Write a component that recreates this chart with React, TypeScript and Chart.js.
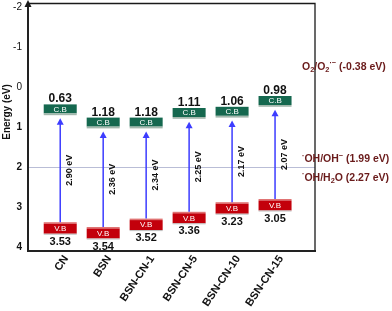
import React, { useEffect, useRef } from 'react';
import { Chart, registerables } from 'chart.js';

Chart.register(...registerables);

const categories = ['CN', 'BSN', 'BSN-CN-1', 'BSN-CN-5', 'BSN-CN-10', 'BSN-CN-15'];
// printed band-edge values
const cbValues = [0.63, 1.18, 1.18, 1.11, 1.06, 0.98];
const vbValues = [3.53, 3.54, 3.52, 3.36, 3.23, 3.05];
const gapValues = [2.9, 2.36, 2.34, 2.25, 2.17, 2.07];
// level at which each band box sits on the energy axis
const cbLevels = [0.56, 0.89, 0.89, 0.65, 0.62, 0.35];
const vbLevels = [3.53, 3.65, 3.44, 3.27, 3.03, 2.95];
const yTicks = [-2, -1, 0, 1, 2, 3, 4];
const potentialValues = [-0.38, 1.99, 2.27];
const referenceLine = 2;

const FONT = '"Liberation Sans", Arial, Helvetica, sans-serif';

type Part = { t: string; m?: 'sub' | 'sup' };

const potentialLabels: Part[][] = [
  [{ t: 'O' }, { t: '2', m: 'sub' }, { t: '/O' }, { t: '2', m: 'sub' }, { t: '\u00b7\u2212', m: 'sup' }, { t: ' (' + potentialValues[0].toFixed(2) + ' eV)' }],
  [{ t: '\u00b7', m: 'sup' }, { t: 'OH/OH' }, { t: '\u2212', m: 'sup' }, { t: ' (' + potentialValues[1].toFixed(2) + ' eV)' }],
  [{ t: '\u00b7', m: 'sup' }, { t: 'OH/H' }, { t: '2', m: 'sub' }, { t: 'O (' + potentialValues[2].toFixed(2) + ' eV)' }],
];

function drawRich(ctx: CanvasRenderingContext2D, parts: Part[], x: number, y: number, size: number) {
  let cx = x;
  ctx.textAlign = 'left';
  ctx.textBaseline = 'middle';
  for (const p of parts) {
    const s = p.m ? size * 0.7 : size;
    const dy = p.m === 'sub' ? size * 0.3 : p.m === 'sup' ? -size * 0.35 : 0;
    ctx.font = `bold ${s}px ${FONT}`;
    ctx.fillText(p.t, cx, y + dy);
    cx += ctx.measureText(p.t).width;
  }
}

const bandPlugin = {
  id: 'bandPlugin',
  afterDraw(chart: any) {
    const { ctx, chartArea: a } = chart;
    const x = chart.scales.x;
    const y = chart.scales.y;
    ctx.save();

    // frame (top / right)
    ctx.strokeStyle = '#1a1a1a';
    ctx.lineWidth = 1.3;
    ctx.beginPath();
    ctx.moveTo(a.left, a.top + 0.5);
    ctx.lineTo(a.right, a.top + 0.5);
    ctx.lineTo(a.right, a.bottom);
    ctx.stroke();
    // arrow head on energy axis
    ctx.fillStyle = '#1a1a1a';
    ctx.beginPath();
    ctx.moveTo(a.left, a.top - 3);
    ctx.lineTo(a.left - 3.5, a.top + 4);
    ctx.lineTo(a.left + 3.5, a.top + 4);
    ctx.closePath();
    ctx.fill();

    const W = 33;
    categories.forEach((_, i) => {
      const cx = x.getPixelForValue(i);
      const cyC = y.getPixelForValue(cbLevels[i]);
      const cyV = y.getPixelForValue(vbLevels[i]);

      // conduction band box
      ctx.fillStyle = '#15684f';
      ctx.fillRect(cx - W / 2, cyC - 5, W, 9);
      ctx.fillStyle = '#a3b8ad';
      ctx.fillRect(cx - W / 2, cyC + 4, W, 1.8);
      ctx.fillStyle = '#ffffff';
      ctx.font = `8px ${FONT}`;
      ctx.textAlign = 'center';
      ctx.textBaseline = 'middle';
      ctx.fillText('C.B', cx, cyC);
      ctx.fillStyle = '#111';
      ctx.font = `bold 12px ${FONT}`;
      ctx.textBaseline = 'alphabetic';
      ctx.fillText(cbValues[i].toFixed(2), cx, cyC - 7);

      // valence band box
      ctx.fillStyle = '#e07474';
      ctx.fillRect(cx - W / 2, cyV - 6, W, 1.5);
      ctx.fillStyle = '#c3000b';
      ctx.fillRect(cx - W / 2, cyV - 4.5, W, 10);
      ctx.fillStyle = '#bdbdbd';
      ctx.fillRect(cx - W / 2, cyV + 5.5, W, 1);
      ctx.fillStyle = '#ffffff';
      ctx.font = `8px ${FONT}`;
      ctx.textBaseline = 'middle';
      ctx.fillText('V.B', cx, cyV + 0.5);
      ctx.fillStyle = '#111';
      ctx.font = `bold 11px ${FONT}`;
      ctx.textBaseline = 'top';
      ctx.fillText(vbValues[i].toFixed(2), cx, cyV + 8);

      // excitation arrow
      const y0 = cyV - 6;
      const tip = cyC + 5.8 + 3;
      ctx.strokeStyle = '#3c3cff';
      ctx.lineWidth = 1.5;
      ctx.beginPath();
      ctx.moveTo(cx, y0);
      ctx.lineTo(cx, tip + 5);
      ctx.stroke();
      ctx.fillStyle = '#3c3cff';
      ctx.beginPath();
      ctx.moveTo(cx, tip);
      ctx.lineTo(cx - 3.5, tip + 6.5);
      ctx.lineTo(cx + 3.5, tip + 6.5);
      ctx.closePath();
      ctx.fill();

      // gap label
      ctx.save();
      ctx.translate(cx + 9.5, (y0 + tip) / 2);
      ctx.rotate(-Math.PI / 2);
      ctx.fillStyle = '#111';
      ctx.font = `bold 9px ${FONT}`;
      ctx.textAlign = 'center';
      ctx.textBaseline = 'middle';
      ctx.fillText(gapValues[i].toFixed(2) + ' eV', 0, 0);
      ctx.restore();
    });

    // redox potentials
    const offs = [-5, -7, 0];
    ctx.fillStyle = '#6a1b1b';
    potentialLabels.forEach((parts, k) => {
      drawRich(ctx, parts, a.right - 13, y.getPixelForValue(potentialValues[k]) + offs[k], 10.5);
    });

    // y axis title
    ctx.save();
    ctx.translate(7, 112);
    ctx.rotate(-Math.PI / 2);
    ctx.fillStyle = '#111';
    ctx.font = `bold 10px ${FONT}`;
    ctx.textAlign = 'center';
    ctx.textBaseline = 'middle';
    ctx.fillText('Energy (eV)', 0, 0);
    ctx.restore();

    ctx.restore();
  },
};

export default function App() {
  const ref = useRef<HTMLCanvasElement>(null);
  useEffect(() => {
    document.body.style.margin = '0';
    const canvas = ref.current!;
    const chart = new Chart(canvas, {
      type: 'scatter',
      data: {
        datasets: [
          {
            data: categories.map((_, i) => ({ x: i, y: cbLevels[i] })),
            pointRadius: 0,
            showLine: false,
          },
        ],
      },
      options: {
        animation: false,
        responsive: false,
        devicePixelRatio: 1,
        layout: { padding: { top: 3, right: 77, left: 0, bottom: 0 } },
        plugins: { legend: { display: false }, tooltip: { enabled: false } },
        scales: {
          x: {
            type: 'linear',
            min: -0.75,
            max: 5.93,
            afterBuildTicks: (s: any) => {
              s.ticks = categories.map((_, i) => ({ value: i }));
            },
            afterFit: (s: any) => {
              s.height = 60;
              s.paddingLeft = 0;
              s.paddingRight = 0;
            },
            grid: { display: false, drawTicks: false },
            border: { display: true, color: '#222', width: 2 },
            ticks: {
              autoSkip: false,
              maxRotation: 56,
              minRotation: 56,
              padding: 2,
              labelOffset: 6,
              color: '#111',
              font: { family: FONT, size: 11, weight: 'bold' },
              callback: (v: any) => categories[v as number] ?? '',
            },
          },
          y: {
            type: 'linear',
            reverse: true,
            min: -2.1,
            max: 4.1,
            afterBuildTicks: (s: any) => {
              s.ticks = yTicks.map((v) => ({ value: v }));
            },
            afterFit: (s: any) => {
              s.width = 28;
              s.paddingTop = 0;
              s.paddingBottom = 0;
            },
            grid: {
              drawTicks: false,
              lineWidth: 1,
              color: (c: any) => (c.tick && c.tick.value === referenceLine ? '#b9bdd6' : 'rgba(0,0,0,0)'),
            },
            border: { display: true, color: '#222', width: 2 },
            ticks: {
              padding: 6,
              color: '#111',
              font: (c: any) => ({
                family: FONT,
                size: 10,
                weight: c.tick && c.tick.value > 0 ? 'bold' : 'normal',
              }),
            },
          },
        },
      },
      plugins: [bandPlugin],
    } as any);
    return () => chart.destroy();
  }, []);
  return (
    <div style={{ width: 392, height: 311 }}>
      <canvas ref={ref} width={392} height={311} />
    </div>
  );
}
